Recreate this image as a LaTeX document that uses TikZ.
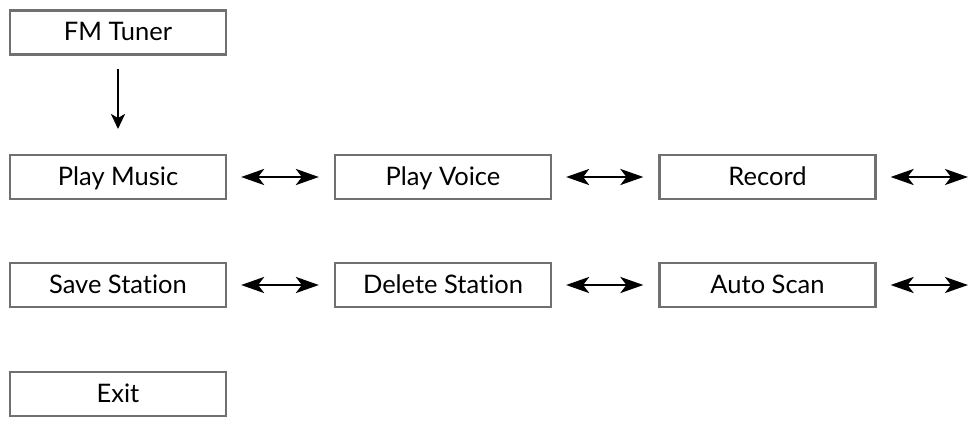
\documentclass[tikz,border=0pt]{standalone}
\usepackage{fontspec}
\setmainfont{Lato}[Ligatures={NoCommon}]
\usetikzlibrary{arrows.meta}
\definecolor{boxgray}{HTML}{707070}
\tikzset{
  menubox/.style={draw=boxgray, line width=2.2pt, fill=white, minimum width=216pt, minimum height=44pt, inner sep=0pt, text height=20pt, text depth=4pt, font=\fontsize{25.5}{28}\selectfont},
  dblarrow/.style={line width=2.6pt, {Stealth[length=23pt,width=16pt,inset=6pt]}-{Stealth[length=23pt,width=16pt,inset=6pt]}},
  downarrow/.style={line width=2.6pt, -{Stealth[length=15pt,width=14pt,inset=4pt]}}
}
\begin{document}
\begin{tikzpicture}[x=1pt,y=-1pt]
\useasboundingbox (0,0) rectangle (971,423);
\node[menubox] (fm) at (118,32.5) {FM Tuner};
\node[menubox] (pm) at (118,177) {Play Music};
\node[menubox] (pv) at (443,177) {Play Voice};
\node[menubox] (rec) at (767.5,177) {Record};
\node[menubox] (ss) at (118,285) {Save Station};
\node[menubox] (ds) at (443,285) {Delete Station};
\node[menubox] (as) at (767.5,285) {Auto Scan};
\node[menubox] (ex) at (118,394) {Exit};
\coordinate (r1) at (968,177);
\coordinate (r2) at (968,285);
\coordinate (dtip) at (118,129);
\draw[downarrow] ([yshift=-13pt]fm.south) -- (dtip);
\draw[dblarrow] ([xshift=14pt]pm.east) -- ([xshift=-15pt]pv.west);
\draw[dblarrow] ([xshift=14pt]pv.east) -- ([xshift=-15pt]rec.west);
\draw[dblarrow] ([xshift=14pt]rec.east) -- (r1);
\draw[dblarrow] ([xshift=14pt]ss.east) -- ([xshift=-15pt]ds.west);
\draw[dblarrow] ([xshift=14pt]ds.east) -- ([xshift=-15pt]as.west);
\draw[dblarrow] ([xshift=14pt]as.east) -- (r2);
\end{tikzpicture}
\end{document}
